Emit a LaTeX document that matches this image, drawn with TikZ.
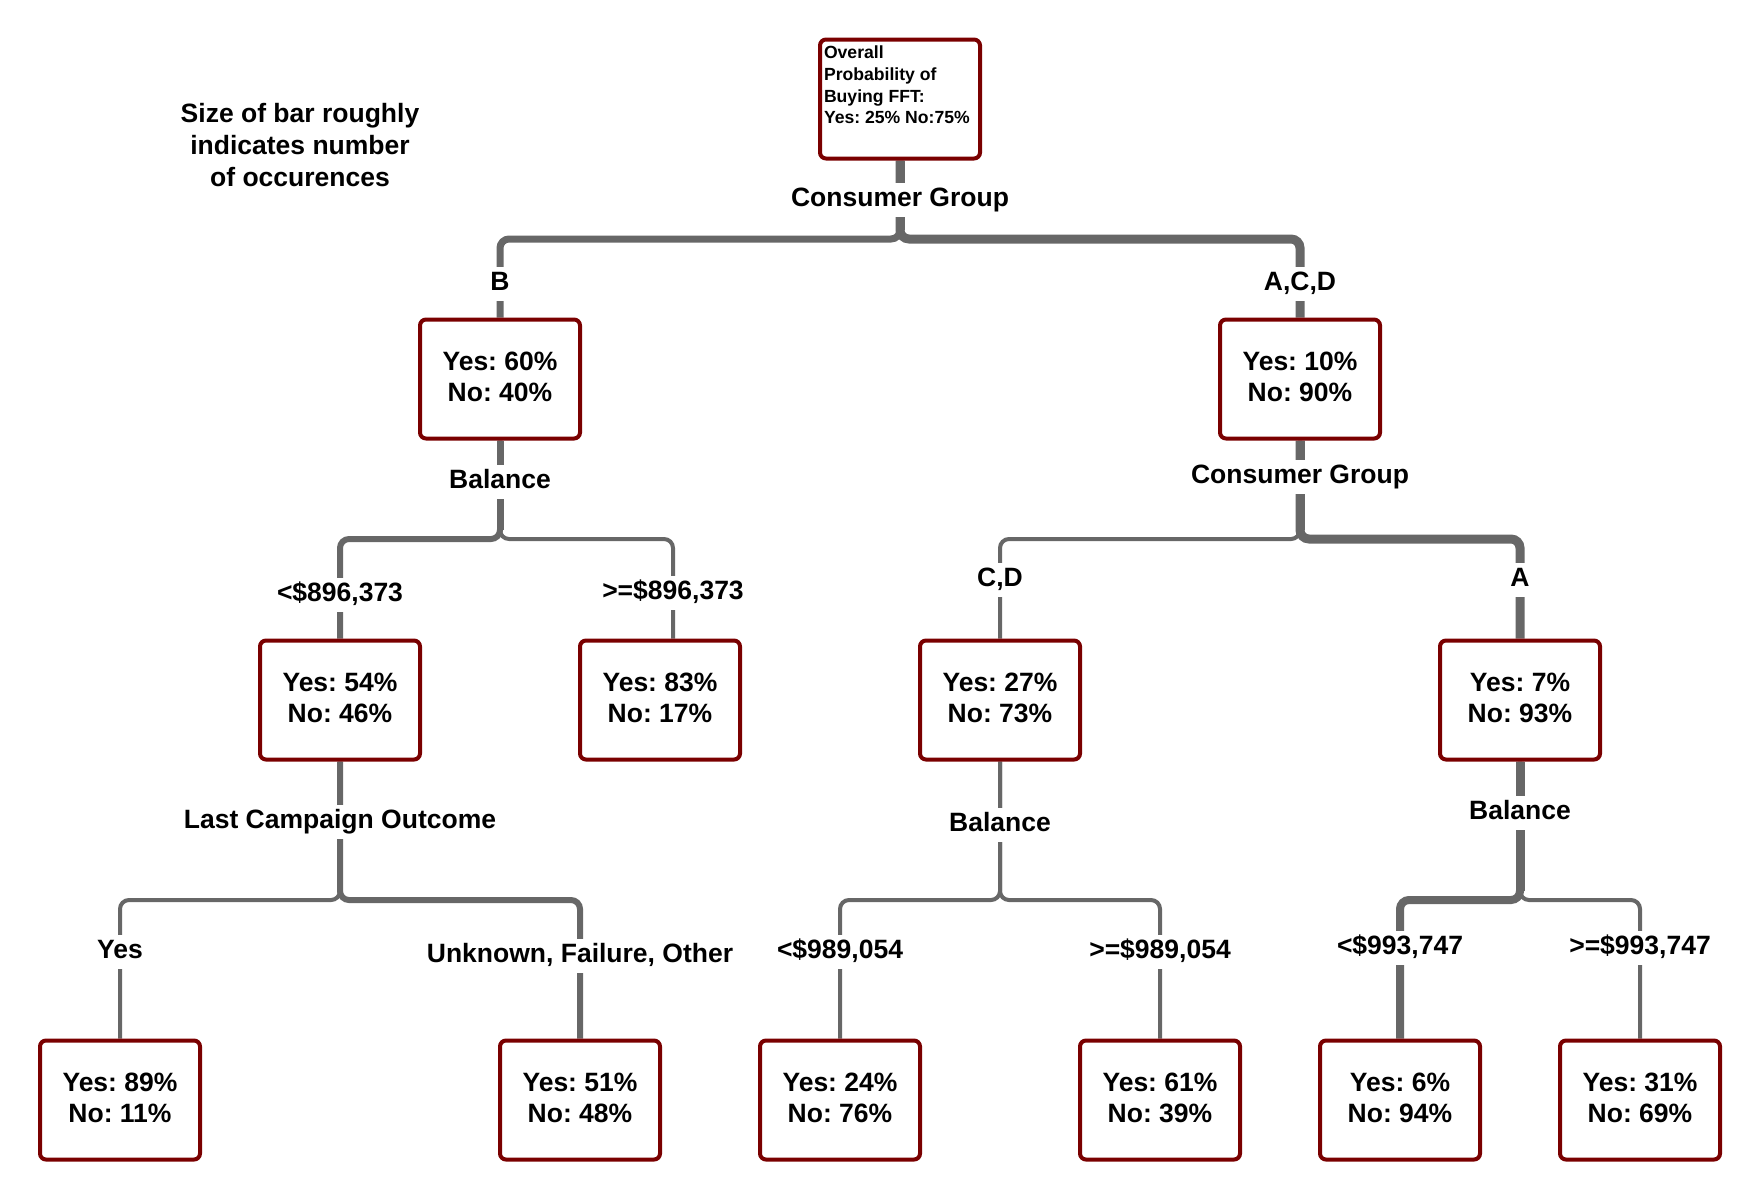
\documentclass[tikz,border=0pt]{standalone}
\usepackage{fontspec}
\setmainfont{Liberation Sans}
\frenchspacing
\pgfdeclarelayer{bg}
\pgfsetlayers{bg,main}
\definecolor{wire}{HTML}{676767}
\definecolor{frame}{HTML}{7A0000}
% two-line probability text, nudged slightly upward inside its box
\newcommand{\yesno}[2]{Yes: #1\%\\No: #2\%\rule[-5pt]{0pt}{5pt}}

\begin{document}
\begin{tikzpicture}[x=1pt,y=-1pt,
  every node/.style={font=\bfseries\fontsize{26.5pt}{31pt}\selectfont},
  probbox/.style={draw=frame, line width=4pt, rounded corners=6pt, fill=white,
    minimum width=160pt, minimum height=119pt, align=center, inner sep=0pt},
  splitlabel/.style={fill=white, inner xsep=3pt, inner ysep=5pt,
    text height=19pt, text depth=5.5pt},
  edge/.style={draw=wire, rounded corners=9pt},
  stem/.style={draw=wire}]

\useasboundingbox (0,0) rectangle (1760,1200);

% legend
\node[align=center, font=\bfseries\fontsize{26.5pt}{32pt}\selectfont] (legend) at (300,145)
  {Size of bar roughly\\indicates number\\of occurences};

% tree nodes
\node[probbox] (root) at (900,99)
  {\parbox[c][106pt][t]{152pt}{\raggedright\fontsize{17.6pt}{21.7pt}\selectfont
   Overall\\Probability of\\Buying FFT:\\Yes: 25\% No:75\%}};

\node[probbox] (nB)   at (500,379)  {\yesno{60}{40}};
\node[probbox] (nACD) at (1300,379) {\yesno{10}{90}};

\node[probbox] (n54) at (340,700)  {\yesno{54}{46}};
\node[probbox] (n83) at (660,700)  {\yesno{83}{17}};
\node[probbox] (n27) at (1000,700) {\yesno{27}{73}};
\node[probbox] (n7)  at (1520,700) {\yesno{7}{93}};

\node[probbox] (n89) at (120,1100)  {\yesno{89}{11}};
\node[probbox] (n51) at (580,1100)  {\yesno{51}{48}};
\node[probbox] (n24) at (840,1100)  {\yesno{24}{76}};
\node[probbox] (n61) at (1160,1100) {\yesno{61}{39}};
\node[probbox] (n6)  at (1400,1100) {\yesno{6}{94}};
\node[probbox] (n31) at (1640,1100) {\yesno{31}{69}};

% connectors, width roughly proportional to number of cases
\begin{pgfonlayer}{bg}
  \draw[edge, line width=7pt] (root.south) -- (900,239) -- (500,239) -- (nB.north);
  \draw[edge, line width=9pt] (root.south) -- (900,239) -- (1300,239) -- (nACD.north);
  \draw[stem, line width=9pt] (root.south) -- (900,230);

  \draw[edge, line width=6pt] (nB.south) -- (500,539) -- (340,539) -- (n54.north);
  \draw[edge, line width=4pt] (nB.south) -- (500,539) -- (673,539) -- (n83.north -| 673,0);
  \draw[stem, line width=7pt] (nB.south) -- (500,530);

  \draw[edge, line width=4pt] (nACD.south) -- (1300,539) -- (1000,539) -- (n27.north);
  \draw[edge, line width=9pt] (nACD.south) -- (1300,539) -- (1520,539) -- (n7.north);
  \draw[stem, line width=9pt] (nACD.south) -- (1300,530);

  \draw[edge, line width=4pt] (n54.south) -- (340,900) -- (120,900) -- (n89.north);
  \draw[edge, line width=6pt] (n54.south) -- (340,900) -- (580,900) -- (n51.north);
  \draw[stem, line width=6pt] (n54.south) -- (340,891);

  \draw[edge, line width=4pt] (n27.south) -- (1000,900) -- (840,900) -- (n24.north);
  \draw[edge, line width=4pt] (n27.south) -- (1000,900) -- (1160,900) -- (n61.north);
  \draw[stem, line width=4pt] (n27.south) -- (1000,891);

  \draw[edge, line width=8pt] (n7.south) -- (1520,900) -- (1400,900) -- (n6.north);
  \draw[edge, line width=4pt] (n7.south) -- (1520,900) -- (1640,900) -- (n31.north);
  \draw[stem, line width=9pt] (n7.south) -- (1520,891);
\end{pgfonlayer}

% split variables
\node[splitlabel] (cg1)  at (900,200)  {Consumer Group};
\node[splitlabel] (bal1) at (500,482)  {Balance};
\node[splitlabel] (cg2)  at (1300,477) {Consumer Group};
\node[splitlabel] (lco)  at (340,822)  {Last Campaign Outcome};
\node[splitlabel] (bal2) at (1000,825) {Balance};
\node[splitlabel] (bal3) at (1520,813) {Balance};

% branch conditions
\node[splitlabel] (lb)   at (500,284)  {B};
\node[splitlabel] (lacd) at (1300,284) {A,C,D};
\node[splitlabel] (l896) at (340,595)  {<\$896,373};
\node[splitlabel] (g896) at (673,593)  {>=\$896,373};
\node[splitlabel] (lcd)  at (1000,580) {C,D};
\node[splitlabel] (la)   at (1520,580) {A};
\node[splitlabel] (lyes) at (120,952)  {Yes};
\node[splitlabel] (lufo) at (580,956)  {Unknown, Failure, Other};
\node[splitlabel] (l989) at (840,952)  {<\$989,054};
\node[splitlabel] (g989) at (1160,952) {>=\$989,054};
\node[splitlabel] (l993) at (1400,948) {<\$993,747};
\node[splitlabel] (g993) at (1640,948) {>=\$993,747};

\end{tikzpicture}
\end{document}
